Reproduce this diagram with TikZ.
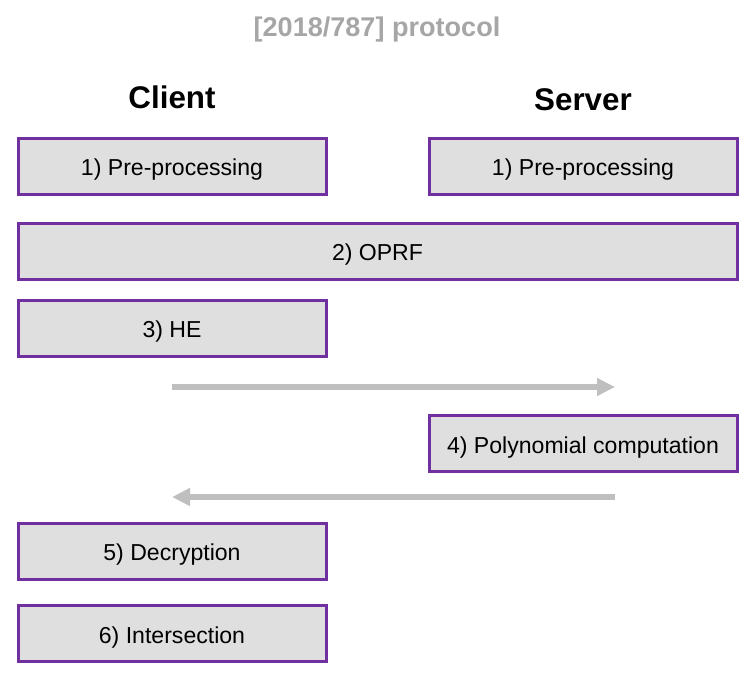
\documentclass[tikz,border=0pt]{standalone}
\usepackage{fontspec}
\setmainfont{Liberation Sans}
\usetikzlibrary{arrows.meta}
\definecolor{stepline}{HTML}{7030A0}
\definecolor{stepfill}{HTML}{DFDFDF}
\definecolor{msgline}{HTML}{BFBFBF}
\definecolor{titlegray}{HTML}{A6A6A6}

\begin{document}
\begin{tikzpicture}[x=0.75pt, y=-0.75pt,
	stepbox/.style={draw=stepline, fill=stepfill, line width=2.25pt, minimum height=42pt, inner sep=0pt, text height=16pt, text depth=1.5pt, font=\fontsize{17.3}{20}\selectfont},
	party/.style={font=\fontsize{23.5}{27}\selectfont\bfseries},
	msg/.style={draw=msgline, line width=4.5pt, -{Triangle[length=13.5pt, width=12.75pt]}}]
	\useasboundingbox (0,0) rectangle (752,678);
	\node[font=\fontsize{20.3}{24}\selectfont\bfseries, text=titlegray] (T) at (377,30) {[2018/787] protocol};
	\node[party] (C) at (172,97) {Client};
	\node[party] (S) at (583,100) {Server};
	\node[stepbox, minimum width=231pt] (CP) at (172,166) {1) Pre-processing};
	\node[stepbox, minimum width=231pt] (SP) at (583,166) {1) Pre-processing};
	\node[stepbox, minimum width=539.25pt] (O) at (377.5,251) {2) OPRF};
	\node[stepbox, minimum width=231pt] (H) at (172,328) {3) HE};
	\node[stepbox, minimum width=231pt] (P) at (583,443.5) {4) Polynomial computation};
	\node[stepbox, minimum width=231pt] (D) at (172,551) {5) Decryption};
	\node[stepbox, minimum width=231pt] (I) at (172,633.5) {6) Intersection};
	\coordinate (m1a) at (172,387);
	\coordinate (m1b) at (615,387);
	\coordinate (m2a) at (615,497);
	\coordinate (m2b) at (172,497);
	\draw[msg] (m1a) -- (m1b);
	\draw[msg] (m2a) -- (m2b);
\end{tikzpicture}
\end{document}
